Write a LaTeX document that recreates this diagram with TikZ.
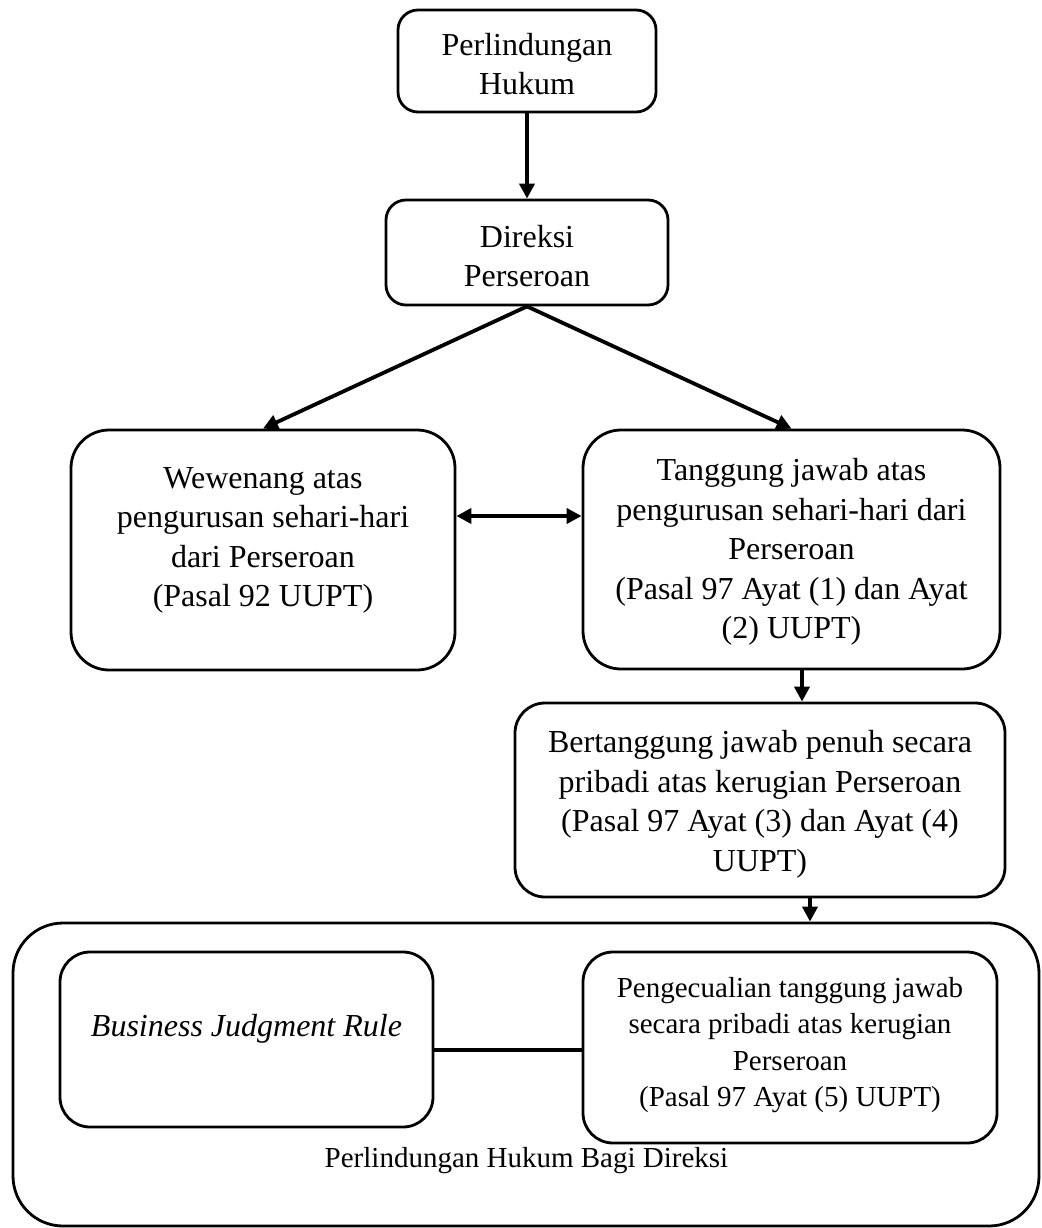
\documentclass[tikz,border=0pt]{standalone}
\usepackage{fontspec}
\setmainfont{Liberation Serif}
\usetikzlibrary{arrows.meta}
\begin{document}
\begin{tikzpicture}[x=1pt,y=-1pt,
  box/.style={draw, line width=2.8pt, inner sep=0pt},
  txt/.style={align=center, inner sep=0pt, font=\fontsize{32}{39.5}\selectfont},
  stxt/.style={align=center, inner sep=0pt, font=\fontsize{29}{36.3}\selectfont},
  arr/.style={line width=3.8pt, -{Triangle[width=15pt,length=15pt]}},
  dbl/.style={line width=3.8pt, {Triangle[width=15pt,length=15pt]}-{Triangle[width=15pt,length=15pt]}},
  link/.style={line width=4.5pt}]
\useasboundingbox (0,0) rectangle (1041,1228);

% boxes
\node[box, rounded corners=20pt, minimum width=258pt, minimum height=102pt] (b1) at (527,61) {};
\node[box, rounded corners=20pt, minimum width=282pt, minimum height=105pt] (b2) at (527,252.5) {};
\node[box, rounded corners=38pt, minimum width=384pt, minimum height=240pt] (b3) at (263,550) {};
\node[box, rounded corners=38pt, minimum width=417pt, minimum height=239pt] (b4) at (791.5,549.5) {};
\node[box, rounded corners=30pt, minimum width=490pt, minimum height=194pt] (b5) at (760,800) {};
\node[box, rounded corners=50pt, minimum width=1026pt, minimum height=303pt] (big) at (526,1074.5) {};
\node[box, rounded corners=30pt, minimum width=373pt, minimum height=175pt] (bjr) at (246.5,1039.5) {};
\node[box, rounded corners=30pt, minimum width=414pt, minimum height=191pt] (pk) at (790,1047.5) {};

% texts
\node[txt, yshift=-3pt] (t1) at (b1) {Perlindungan\\Hukum};
\node[txt, yshift=-3.5pt] (t2) at (b2) {Direksi\\Perseroan};
\node[txt, yshift=9.5pt] (t3) at (b3) {Wewenang atas\\pengurusan sehari-hari\\dari Perseroan\\(Pasal 92 UUPT)};
\node[txt, yshift=-2.5pt] (t4) at (b4) {Tanggung jawab atas\\pengurusan sehari-hari dari\\Perseroan\\(Pasal 97 Ayat (1) dan Ayat\\(2) UUPT)};
\node[txt, yshift=-4.5pt] (t5) at (b5) {Bertanggung jawab penuh secara\\pribadi atas kerugian Perseroan\\(Pasal 97 Ayat (3) dan Ayat (4)\\UUPT)};
\node[txt, yshift=10.5pt] (tbjr) at (bjr) {\itshape Business Judgment Rule};
\node[stxt, yshift=2.5pt] (tpk) at (pk) {Pengecualian tanggung jawab\\secara pribadi atas kerugian\\Perseroan\\(Pasal 97 Ayat (5) UUPT)};
\node[stxt, anchor=base] (tbig) at (526.5,1167) {Perlindungan Hukum Bagi Direksi};

% connectors
\coordinate (ya) at (0,516);
\coordinate (xa) at (802,0);
\coordinate (xb) at (810,0);
\coordinate (yl) at (0,1050);
\draw[arr] (b1.south) -- (b2.north);
\draw[arr] (b2.south) -- (b3.north);
\draw[arr] (b2.south) -- (b4.north);
\draw[dbl] (b3.east |- ya) -- (b4.west |- ya);
\draw[arr] (b4.south -| xa) -- (b5.north -| xa);
\draw[arr] (b5.south -| xb) -- (big.north -| xb);
\draw[link] (bjr.east |- yl) -- (pk.west |- yl);
\end{tikzpicture}
\end{document}
